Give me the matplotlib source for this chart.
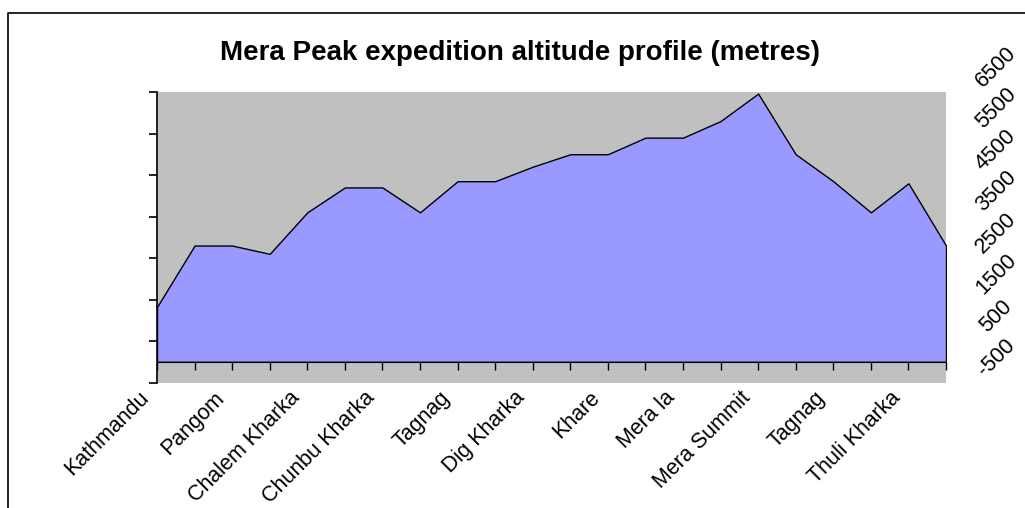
import matplotlib
matplotlib.use("Agg")
import matplotlib.pyplot as plt
import matplotlib.transforms as mtransforms
from matplotlib.lines import Line2D

plt.rcParams['font.family'] = ['Liberation Sans', 'DejaVu Sans']

# ---- data ----
places = ['Kathmandu', '', 'Pangom', '', 'Chalem Kharka', '', 'Chunbu Kharka', '',
          'Tagnag', '', 'Dig Kharka', '', 'Khare', '', 'Mera la', '', 'Mera Summit', '',
          'Tagnag', '', 'Thuli Kharka', '']
altitude = [1320, 2800, 2800, 2600, 3600, 4200, 4200, 3600, 4350, 4350, 4700,
            5000, 5000, 5400, 5400, 5800, 6461, 5000, 4350, 3600, 4300, 2800]
y_ticks = [-500, 500, 1500, 2500, 3500, 4500, 5500, 6500]
title = 'Mera Peak expedition altitude profile (metres)'

W, H = 1025, 508
fig = plt.figure(figsize=(W / 100, H / 100), dpi=100)
ax = fig.add_axes([157 / W, 1 - 382.5 / H, (946 - 157) / W, (382.5 - 92) / H])
ax.set_facecolor('#C0C0C0')

x = list(range(len(altitude)))
ax.fill_between(x, 0, altitude, facecolor='#9999FF', edgecolor='black', linewidth=1.0, zorder=2)

ax.set_xlim(0, len(altitude) - 1)
ax.set_ylim(y_ticks[0], y_ticks[-1])

for s in ['top', 'right']:
    ax.spines[s].set_visible(False)
ax.spines['bottom'].set_position(('data', 0))
ax.spines['bottom'].set_zorder(3)
ax.spines['left'].set_linewidth(1.2)

ax.set_xticks(x)
ax.set_xticklabels([''] * len(x))
ax.tick_params(axis='x', direction='out', length=5.76, width=1, colors='black')

# category labels (rotated), anchored below each category point
lab_trans = ax.transData + mtransforms.ScaledTranslation(-11 / 100, -33 / 100, fig.dpi_scale_trans)
for xi, name in zip(x, places):
    if name:
        ax.text(xi, 0, name, transform=lab_trans, rotation=45, ha='right', va='center',
                rotation_mode='anchor', fontsize=15.5, clip_on=False)

ax.set_yticks(y_ticks)
ax.tick_params(axis='y', direction='out', length=5.76, width=1.2, labelleft=False)

# value labels on the right side
trans = mtransforms.blended_transform_factory(fig.transFigure, ax.transData) + \
    mtransforms.ScaledTranslation(0, 25 / 100, fig.dpi_scale_trans)
for v in y_ticks:
    ax.text(996 / W, v, str(v), transform=trans, rotation=45, ha='center', va='center',
            fontsize=15.5, clip_on=False)

fig.text(520 / W, 1 - 53 / H, title, ha='center', va='center', fontsize=20, fontweight='bold')

# chart border
fig.add_artist(Line2D([7.5 / W, 7.5 / W, 1.0], [0, 1 - 13.3 / H, 1 - 13.3 / H],
                      transform=fig.transFigure, color='black', linewidth=1.2))

fig.savefig('out.png', dpi=100, facecolor='white')
